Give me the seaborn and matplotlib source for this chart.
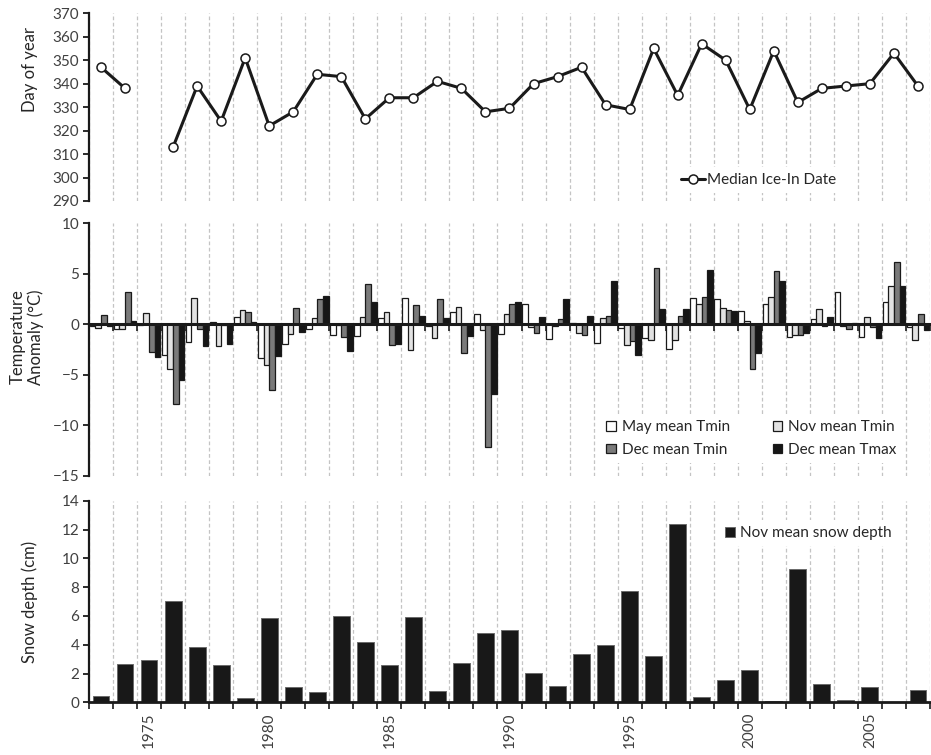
import numpy as np
import pandas as pd
import matplotlib
matplotlib.use("Agg")
import matplotlib.pyplot as plt
import seaborn as sns
from matplotlib.lines import Line2D
from matplotlib.patches import Patch
from matplotlib.ticker import FixedLocator, MultipleLocator

# ---------------------------------------------------------------- data
years = list(range(1973, 2008))

ice_in_day = [347, 338, np.nan, 313, 339, 324, 351, 322, 328, 344, 343, 325,
              334, 334, 341, 338, 328, 329.5, 340, 343, 347, 331, 329, 355,
              335, 357, 350, 329, 354, 332, 338, 339, 340, 353, 339]

may_tmin = [-0.2, -0.5, -0.1, -3.0, -1.8, 0.2, 0.7, -3.3, -2.0, -0.5, -1.1, -1.2,
            0.6, 2.6, -0.2, 1.2, 1.0, -1.0, 2.0, -1.5, 0.1, -1.9, -0.4, -1.4,
            -2.4, 2.6, 2.5, 1.3, 2.0, -1.3, 0.5, 3.2, -1.3, 2.2, -0.3]

nov_tmin = [-0.35, -0.5, 1.1, -4.4, 2.6, -2.2, 1.4, -4.0, -1.0, 0.6, -0.05, 0.7,
            1.2, -2.5, -1.4, 1.7, -0.6, 1.0, -0.3, -0.2, -0.9, 0.6, -2.1, -1.6,
            -1.6, 2.0, 1.6, 0.3, 2.7, -1.1, 1.5, -0.2, 0.7, 3.8, -1.6]

dec_tmin = [0.95, 3.2, -2.7, -7.9, -0.5, -0.1, 1.2, -6.5, 1.65, 2.5, -1.3, 4.0,
            -2.1, 1.9, 2.5, -2.8, -12.15, 2.0, -0.9, 0.5, -1.05, 0.85, -1.7, 5.6,
            0.85, 2.7, 1.4, -4.4, 5.25, -1.1, -0.2, -0.5, -0.25, 6.2, 1.0]

dec_tmax = [-0.15, 0.35, -3.2, -5.5, -2.2, -2.0, 0.25, -3.1, -0.8, 2.8, -2.65, 2.25,
            -1.95, 0.85, 0.65, -1.15, -6.95, 2.2, 0.75, 2.5, 0.8, 4.25, -3.0, 1.55,
            1.5, 5.4, 1.3, -2.85, 4.25, -0.85, 0.75, 0.15, -1.35, 3.75, -0.55]

nov_snow_depth = [0.42, 2.66, 2.92, 7.06, 3.87, 2.57, 0.30, 5.86, 1.04, 0.72,
                  5.97, 4.21, 2.59, 5.90, 0.79, 2.75, 4.81, 5.02, 2.06, 1.11,
                  3.33, 4.0, 7.73, 3.24, 12.4, 0.35, 1.55, 2.22, 0.07, 9.28,
                  1.30, 0.19, 1.04, 0.0, 0.86]

temp_series = ["May mean Tmin", "Nov mean Tmin", "Dec mean Tmin", "Dec mean Tmax"]
temp_colors = ["#ffffff", "#e2e2e2", "#7a7a7a", "#161616"]
year_labels = [1975, 1980, 1985, 1990, 1995, 2000, 2005]

# ---------------------------------------------------------------- style
sns.set_style("ticks")
plt.rcParams["font.family"] = ["Lato", "DejaVu Sans"]
plt.rcParams["text.color"] = "#262626"
plt.rcParams["axes.labelcolor"] = "#262626"

DARK = "#1a1a1a"
GRID = "#c4c4c4"
n = len(years)
year_cats = [str(y) for y in years]

fig = plt.figure(figsize=(9.31, 7.55), dpi=100)
ax_ice = fig.add_axes([0.0956, 0.7338, 0.9033, 0.2486])
ax_tmp = fig.add_axes([0.0956, 0.3699, 0.9033, 0.3343])
ax_snw = fig.add_axes([0.0956, 0.0698, 0.9033, 0.2670])


def style_axis(ax):
    ax.set_xlim(-0.5, n - 0.5)
    ax.xaxis.set_minor_locator(FixedLocator(np.arange(-0.5, n, 1.0)))
    ax.grid(False)
    ax.grid(which="minor", axis="x", color=GRID, linestyle=(0, (3, 2)), linewidth=0.9)
    for side in ("top", "right"):
        ax.spines[side].set_visible(False)
    ax.spines["left"].set_linewidth(1.6)
    ax.spines["left"].set_color(DARK)
    ax.tick_params(axis="y", which="major", direction="out", length=4, width=1.3,
                   color=DARK, labelcolor="#404040", labelsize=11, pad=3)
    ax.set_axisbelow(True)


# ---------------------------------------------------------------- ice-in dates
ice = pd.DataFrame({"pos": np.arange(n), "day": ice_in_day})
ice["segment"] = np.cumsum(ice["day"].isna())
ice = ice.dropna()
sns.lineplot(data=ice, x="pos", y="day", units="segment", estimator=None,
             color=DARK, linewidth=2.2, marker="o", markersize=6.5,
             markerfacecolor="white", markeredgecolor=DARK, markeredgewidth=1.1,
             legend=False, ax=ax_ice)
style_axis(ax_ice)
ax_ice.set_ylim(290, 370)
ax_ice.yaxis.set_major_locator(MultipleLocator(10))
ax_ice.spines["bottom"].set_visible(False)
ax_ice.tick_params(axis="x", which="both", length=0, labelbottom=False)
ax_ice.set_xlabel("")
ax_ice.set_ylabel("Day of year", fontsize=12)
ax_ice.yaxis.set_label_coords(-0.061, 0.70)
ice_handle = Line2D([], [], color=DARK, linewidth=2.2, marker="o", markersize=6.5,
                    markerfacecolor="white", markeredgecolor=DARK, markeredgewidth=1.1)
ax_ice.legend([ice_handle], ["Median Ice-In Date"], loc="center left",
              bbox_to_anchor=(0.697, 0.112), borderaxespad=0, fontsize=11,
              handlelength=1.55, handletextpad=0.15, frameon=True,
              facecolor="white", edgecolor="none", framealpha=1, fancybox=False)

# ---------------------------------------------------------------- temperature anomalies
temp = pd.DataFrame({"year": year_cats, "May mean Tmin": may_tmin,
                     "Nov mean Tmin": nov_tmin, "Dec mean Tmin": dec_tmin,
                     "Dec mean Tmax": dec_tmax})
temp_long = temp.melt(id_vars="year", var_name="series", value_name="anomaly")
sns.barplot(data=temp_long, x="year", y="anomaly", hue="series", order=year_cats,
            hue_order=temp_series, palette=dict(zip(temp_series, temp_colors)),
            width=0.94, gap=0, edgecolor=DARK, linewidth=0.9, saturation=1,
            errorbar=None, legend=False, ax=ax_tmp)
style_axis(ax_tmp)
ax_tmp.set_ylim(-15, 10)
ax_tmp.yaxis.set_major_locator(MultipleLocator(5))
ax_tmp.spines["bottom"].set_position(("data", 0))
ax_tmp.spines["bottom"].set_linewidth(2.2)
ax_tmp.spines["bottom"].set_color(DARK)
ax_tmp.set_xticks([])
ax_tmp.tick_params(axis="x", which="minor", direction="out", length=5, width=1.2,
                   color=DARK, labelbottom=False)
ax_tmp.set_xlabel("")
ax_tmp.set_ylabel("Temperature\nAnomaly (°C)", fontsize=12, linespacing=1.15)
ax_tmp.yaxis.set_label_coords(-0.053, 0.55)
temp_handles = [Patch(facecolor=c, edgecolor=DARK, linewidth=0.9) for c in temp_colors]
order = [0, 2, 1, 3]
ax_tmp.legend([temp_handles[i] for i in order], [temp_series[i] for i in order],
              ncol=2, loc="center left", bbox_to_anchor=(0.608, 0.147),
              borderaxespad=0, fontsize=11, handlelength=0.6, handleheight=0.6,
              handletextpad=0.4, columnspacing=2.8, labelspacing=0.55,
              frameon=True, facecolor="white", edgecolor="none", framealpha=1,
              fancybox=False)

# ---------------------------------------------------------------- snow depth
snow = pd.DataFrame({"year": year_cats, "depth": nov_snow_depth})
sns.barplot(data=snow, x="year", y="depth", order=year_cats, color="#181818",
            width=0.7, edgecolor="#6a6a6a", linewidth=0.7, saturation=1,
            errorbar=None, ax=ax_snw)
style_axis(ax_snw)
ax_snw.set_ylim(0, 14)
ax_snw.yaxis.set_major_locator(MultipleLocator(2))
ax_snw.spines["bottom"].set_linewidth(2.0)
ax_snw.spines["bottom"].set_color(DARK)
ax_snw.set_xticks([years.index(y) for y in year_labels])
ax_snw.set_xticklabels([str(y) for y in year_labels], rotation=90)
ax_snw.tick_params(axis="x", which="major", length=0, pad=7, labelsize=11,
                   labelcolor="#404040")
ax_snw.tick_params(axis="x", which="minor", direction="out", length=5, width=1.2,
                   color=DARK)
ax_snw.set_xlabel("")
ax_snw.set_ylabel("Snow depth (cm)", fontsize=12)
ax_snw.yaxis.set_label_coords(-0.061, 0.5)
snow_handle = Patch(facecolor="#181818", edgecolor="#6a6a6a", linewidth=0.7)
ax_snw.legend([snow_handle], ["Nov mean snow depth"], loc="center left",
              bbox_to_anchor=(0.749, 0.84), borderaxespad=0, fontsize=11,
              handlelength=0.65, handleheight=0.65, handletextpad=0.35,
              frameon=True, facecolor="white", edgecolor="none", framealpha=1,
              fancybox=False)

fig.savefig("out.png", dpi=100)
